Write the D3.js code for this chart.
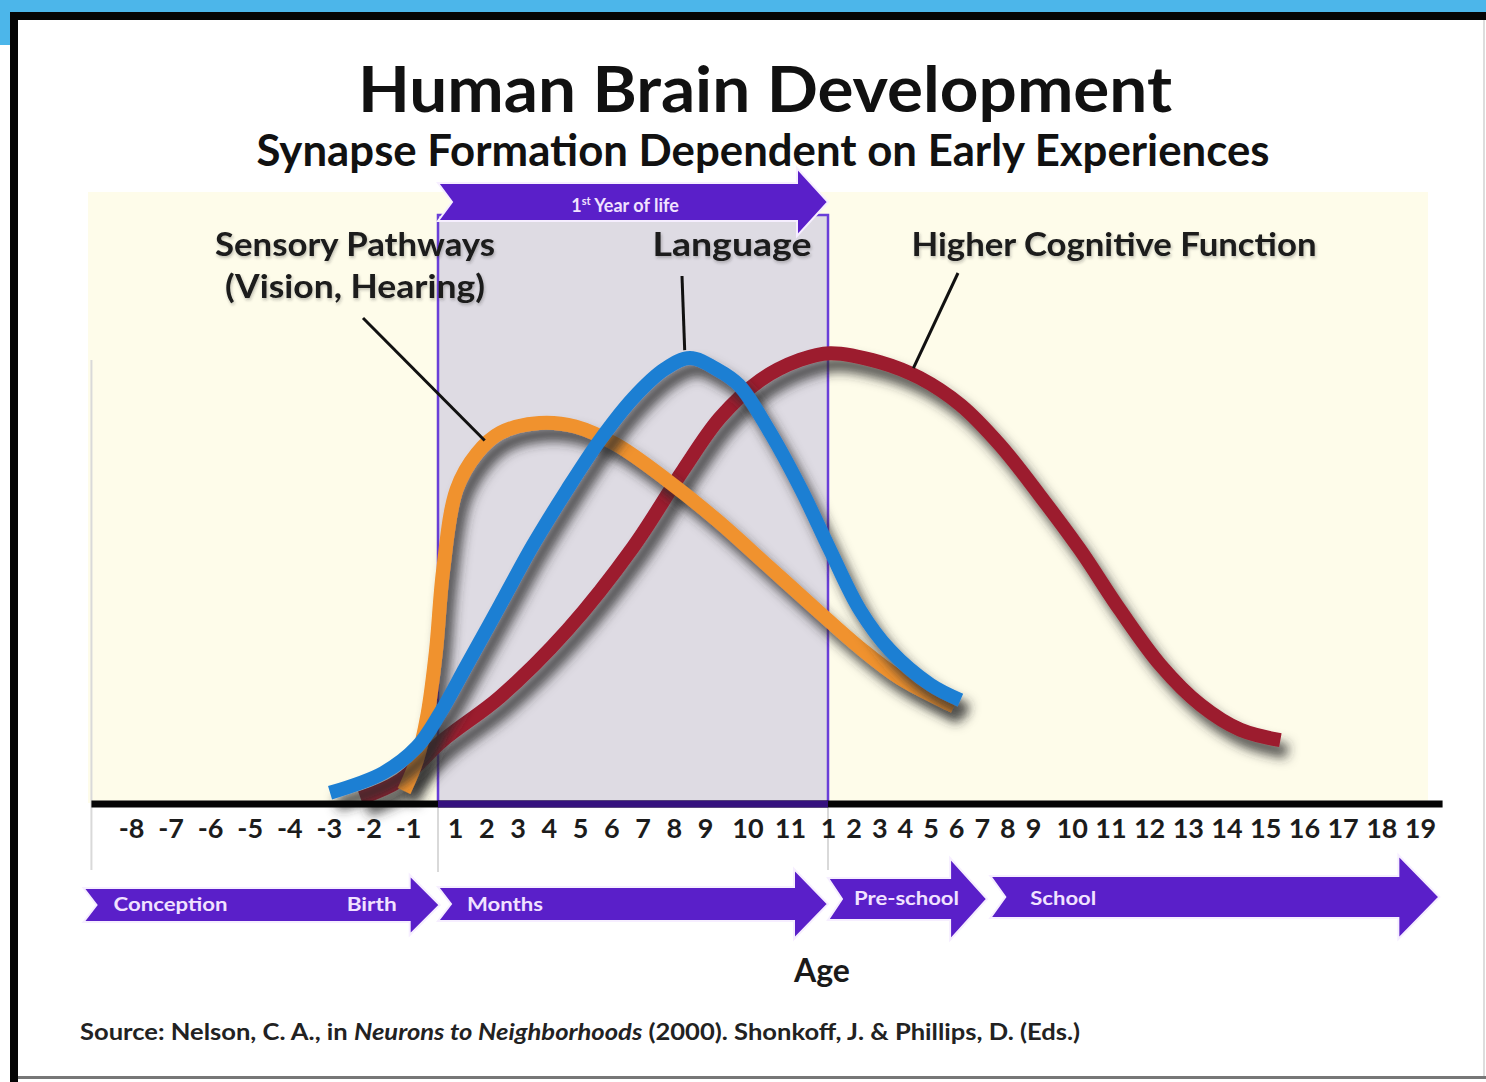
<!DOCTYPE html>
<html>
<head>
<meta charset="utf-8">
<script src="https://cdn.jsdelivr.net/npm/d3@7"></script>
<style>
  body { margin: 0; background: #fff; }
  svg { display: block; }
</style>
</head>
<body>
<script>
const width = 1486
const height = 1082

// tick labels on the age axis
const prenatalMonths = [-8, -7, -6, -5, -4, -3, -2, -1]
const infantMonths = [1, 2, 3, 4, 5, 6, 7, 8, 9, 10, 11]
const childYears = [1, 2, 3, 4, 5, 6, 7, 8, 9, 10, 11, 12, 13, 14, 15, 16, 17, 18, 19]

// synapse formation: [age in months (negative = before birth), relative level 0-100]
const sensory = [[-1.1, 2], [-0.7, 9], [-0.35, 19], [-0.07, 33], [0.3, 51], [1.05, 69], [1.7, 77],
  [2.45, 81.6], [3.7, 83.8], [4.85, 83], [6.18, 78.9], [7.78, 71.1], [9.28, 62.2], [10.46, 52.2],
  [11.71, 42.2], [27, 33.8], [45.7, 27.1], [71, 20.8]]
const language = [[-2.97, 1.6], [-1.63, 6], [-0.7, 11.8], [0.12, 19.3], [1.38, 30], [2.44, 43.3],
  [3.5, 56.7], [4.58, 68.9], [5.64, 80], [6.7, 89.3], [7.72, 95.8], [8.52, 98.2], [9.3, 95.6],
  [9.8, 92.2], [10.5, 82.2], [11.3, 68.9], [12.9, 55.6], [27, 42.2], [41, 33.3], [60, 25.6], [74, 22.2]]
const cognitive = [[-2.2, 0.4], [-1.2, 4.4], [0.3, 13.3], [2.44, 22.9], [4.6, 37.8], [6.7, 56.2],
  [8.3, 73.3], [9.35, 84.9], [10.3, 93.3], [11.26, 97.8], [12.9, 99.3], [36.4, 97.3], [55, 93.8],
  [74, 87.8], [92.5, 78.9], [110, 67.8], [122.6, 55.6], [135, 42.2], [147.5, 30], [160, 21.1],
  [172.3, 15.6], [184.7, 13.3]]

// life phases along the bottom (age in months)
const phaseLabels = ['Conception', 'Months', 'Pre-school', 'School']
const phaseStart = [-9.2, 0, 12, 88]
const phaseEnd = [0.1, 12, 86.5, 234]

// the axis is not uniform: each stretch of labels got its own spacing
const x = d3.scaleLinear()
  .domain([-8, -1, 0, 1, 9, 11, 12, 108, 228])
  .range([131, 408, 438, 455, 705, 790, 828, 1033, 1420])

const y = d3.scaleLinear().domain([0, 100]).range([800, 350])

const svg = d3.select('body').append('svg')
  .attr('width', width)
  .attr('height', height)
  .style('font-family', 'Lato, "DejaVu Sans", sans-serif')

const defs = svg.append('defs')

// blurred drop shadow under the thick curves
function addShadow (id, blur, dx, dy, opacity) {
  const f = defs.append('filter')
    .attr('id', id)
    .attr('filterUnits', 'userSpaceOnUse')
    .attr('x', 0).attr('y', 0).attr('width', width).attr('height', height)
  f.append('feGaussianBlur').attr('in', 'SourceAlpha').attr('stdDeviation', blur).attr('result', 'blur')
  f.append('feOffset').attr('in', 'blur').attr('dx', dx).attr('dy', dy).attr('result', 'off')
  f.append('feFlood').attr('flood-color', '#2b2b2b').attr('flood-opacity', opacity).attr('result', 'col')
  f.append('feComposite').attr('in', 'col').attr('in2', 'off').attr('operator', 'in').attr('result', 'sh')
  const m = f.append('feMerge')
  m.append('feMergeNode').attr('in', 'sh')
  m.append('feMergeNode').attr('in', 'SourceGraphic')
}
addShadow('shadow', 6, 7, 11, 0.85)
addShadow('soft', 1.5, 1, 2, 0.3)

// frame
svg.append('rect').attr('x', 0).attr('y', 0).attr('width', width).attr('height', 12).attr('fill', '#4cb6ea')
svg.append('rect').attr('x', 0).attr('y', 0).attr('width', 10).attr('height', 45).attr('fill', '#4cb6ea')
svg.append('rect').attr('x', 10).attr('y', 12).attr('width', width - 10).attr('height', 8).attr('fill', '#050505')
svg.append('rect').attr('x', 10).attr('y', 12).attr('width', 8).attr('height', height - 12).attr('fill', '#050505')
svg.append('rect').attr('x', 18).attr('y', 1076).attr('width', width - 18).attr('height', 3).attr('fill', '#777')
svg.append('line').attr('x1', 1484).attr('x2', 1484).attr('y1', 20).attr('y2', 1076)
  .attr('stroke', '#ddd').attr('stroke-width', 2)

// titles
svg.append('text')
  .attr('x', 765).attr('y', 112)
  .attr('text-anchor', 'middle')
  .attr('font-size', 64).attr('font-weight', 700).attr('fill', '#111')
  .attr('textLength', 814).attr('lengthAdjust', 'spacingAndGlyphs')
  .text('Human Brain Development')

svg.append('text')
  .attr('x', 763).attr('y', 166)
  .attr('text-anchor', 'middle')
  .attr('font-size', 43).attr('font-weight', 700).attr('fill', '#111')
  .attr('textLength', 1013).attr('lengthAdjust', 'spacingAndGlyphs')
  .text('Synapse Formation Dependent on Early Experiences')

// plot background
svg.append('rect')
  .attr('x', 88).attr('y', 192)
  .attr('width', 1340).attr('height', y(0) + 3 - 192)
  .attr('fill', '#fefcea')

// faint guide lines
const guides = [[x(-9), 360, 870], [x(0), 806, 872], [x(12), 806, 870]]
svg.selectAll('.guide').data(guides).enter().append('line')
  .attr('class', 'guide')
  .attr('x1', d => d[0]).attr('x2', d => d[0])
  .attr('y1', d => d[1]).attr('y2', d => d[2])
  .attr('stroke', '#d9d9d9').attr('stroke-width', 2)

// first year box
svg.append('rect')
  .attr('x', x(0)).attr('y', 215)
  .attr('width', x(12) - x(0)).attr('height', y(0) + 3 - 215)
  .attr('fill', '#dedbe3')
  .attr('stroke', '#6a3fd8').attr('stroke-width', 2.5)

function arrowPath (x0, x1, yc, bh, hh, hl, notch) {
  return `M${x0},${yc - bh} L${x1 - hl},${yc - bh} L${x1 - hl},${yc - hh} L${x1},${yc} ` +
    `L${x1 - hl},${yc + hh} L${x1 - hl},${yc + bh} L${x0},${yc + bh} L${x0 + notch},${yc} Z`
}

const arrowFill = '#5a1fc9'
const arrowText = '#f1e2ff'

// 1st year arrow
svg.append('path')
  .attr('d', arrowPath(x(0), x(12), 202, 19, 34, 31, 14))
  .attr('fill', arrowFill).attr('stroke', '#f6eeff').attr('stroke-width', 2)

const yearLabel = svg.append('text')
  .attr('x', 625).attr('y', 212)
  .attr('text-anchor', 'middle')
  .attr('font-size', 18).attr('font-weight', 700).attr('fill', arrowText)
yearLabel.append('tspan').text('1')
yearLabel.append('tspan').attr('font-size', 11).attr('dy', -7).text('st')
yearLabel.append('tspan').attr('dy', 7).text(' Year of life')

// curves
const line = d3.line()
  .x(d => x(d[0]))
  .y(d => y(d[1]))
  .curve(d3.curveCatmullRom.alpha(0.5))

const series = [
  { name: 'cognitive', values: cognitive, color: '#9c1a2f' },
  { name: 'sensory', values: sensory, color: '#f0922e' },
  { name: 'language', values: language, color: '#1f7fd3' }
]

svg.append('g')
  .selectAll('path')
  .data(series)
  .enter()
  .append('path')
  .attr('d', d => line(d.values))
  .attr('fill', 'none')
  .attr('stroke', d => d.color)
  .attr('stroke-width', 14)
  .attr('stroke-linecap', 'butt')
  .attr('filter', 'url(#shadow)')

// axis line
svg.append('line')
  .attr('x1', x(-9)).attr('x2', x(235))
  .attr('y1', y(0) + 4).attr('y2', y(0) + 4)
  .attr('stroke', '#050505').attr('stroke-width', 7)
svg.append('line')
  .attr('x1', x(0)).attr('x2', x(12))
  .attr('y1', y(0) + 4).attr('y2', y(0) + 4)
  .attr('stroke', '#35117e').attr('stroke-width', 7)

// tick labels
const tickValues = prenatalMonths.concat(infantMonths, childYears.map(v => v * 12))
const tickText = prenatalMonths.concat(infantMonths, childYears).map(String)

const axis = svg.append('g')
  .attr('transform', `translate(0,${y(0) + 3})`)
  .call(d3.axisBottom(x)
    .tickValues(tickValues)
    .tickFormat((d, i) => tickText[i])
    .tickSize(0)
    .tickPadding(16))
axis.select('.domain').remove()
axis.selectAll('text')
  .attr('font-size', 27)
  .attr('font-weight', 700)
  .attr('font-family', 'Lato, "DejaVu Sans", sans-serif')
  .attr('fill', '#1c1c1c')

// curve labels + leader lines
const labels = [
  { lines: ['Sensory Pathways', '(Vision, Hearing)'], x: 355, y: 256, w: [280, 260] },
  { lines: ['Language'], x: 732, y: 256, w: [159] },
  { lines: ['Higher Cognitive Function'], x: 1114, y: 256, w: [405] }
]
labels.forEach(l => {
  l.lines.forEach((t, i) => {
    svg.append('text')
      .attr('x', l.x).attr('y', l.y + i * 42)
      .attr('text-anchor', 'middle')
      .attr('font-size', 33).attr('font-weight', 700).attr('fill', '#1a1a1a')
      .attr('textLength', l.w[i]).attr('lengthAdjust', 'spacingAndGlyphs')
      .attr('filter', 'url(#soft)')
      .text(t)
  })
})

const leaders = [
  [363, 318, x(1.95), y(79) - 4],
  [682, 276, x(8.35), y(98.2) - 8],
  [958, 273, x(52), y(94.4) - 7]
]
svg.selectAll('.leader').data(leaders).enter().append('line')
  .attr('class', 'leader')
  .attr('x1', d => d[0]).attr('y1', d => d[1])
  .attr('x2', d => d[2]).attr('y2', d => d[3])
  .attr('stroke', '#111').attr('stroke-width', 3)

// phase arrows
const arrowShape = [
  { yc: 905, bh: 17, hh: 30, hl: 30, notch: 13 },
  { yc: 904, bh: 17, hh: 35, hl: 34, notch: 13 },
  { yc: 899, bh: 21, hh: 41, hl: 37, notch: 14 },
  { yc: 897, bh: 21, hh: 42, hl: 41, notch: 15 }
]
svg.append('g')
  .selectAll('path')
  .data(phaseLabels)
  .enter()
  .append('path')
  .attr('d', (d, i) => {
    const s = arrowShape[i]
    return arrowPath(x(phaseStart[i]), x(phaseEnd[i]), s.yc, s.bh, s.hh, s.hl, s.notch)
  })
  .attr('fill', arrowFill)
  .attr('stroke', '#f6eeff')
  .attr('stroke-width', 2)

const phaseText = [
  { t: 'Conception', x: x(phaseStart[0]) + 30, w: 114 },
  { t: 'Birth', x: x(phaseEnd[0]) - 93, w: 50 },
  { t: 'Months', x: x(phaseStart[1]) + 29, w: 76 },
  { t: 'Pre-school', x: x(phaseStart[2]) + 26, w: 105 },
  { t: 'School', x: x(phaseStart[3]) + 40, w: 66 }
]
const phaseY = [911, 911, 911, 905, 905]
svg.selectAll('.phase').data(phaseText).enter().append('text')
  .attr('class', 'phase')
  .attr('x', d => d.x).attr('y', (d, i) => phaseY[i])
  .attr('font-size', 19).attr('font-weight', 700).attr('fill', arrowText)
  .attr('textLength', d => d.w).attr('lengthAdjust', 'spacingAndGlyphs')
  .text(d => d.t)

// axis title
svg.append('text')
  .attr('x', 822).attr('y', 982)
  .attr('text-anchor', 'middle')
  .attr('font-size', 32).attr('font-weight', 700).attr('fill', '#1a1a1a')
  .text('Age')

// source
const source = svg.append('text')
  .attr('x', 80).attr('y', 1040)
  .attr('font-size', 22).attr('font-weight', 700).attr('fill', '#222')
  .attr('textLength', 1000).attr('lengthAdjust', 'spacingAndGlyphs')
source.append('tspan').text('Source: Nelson, C. A., in ')
source.append('tspan').attr('font-style', 'italic').text('Neurons to Neighborhoods')
source.append('tspan').text(' (2000). Shonkoff, J. & Phillips, D. (Eds.)')
</script>
</body>
</html>
